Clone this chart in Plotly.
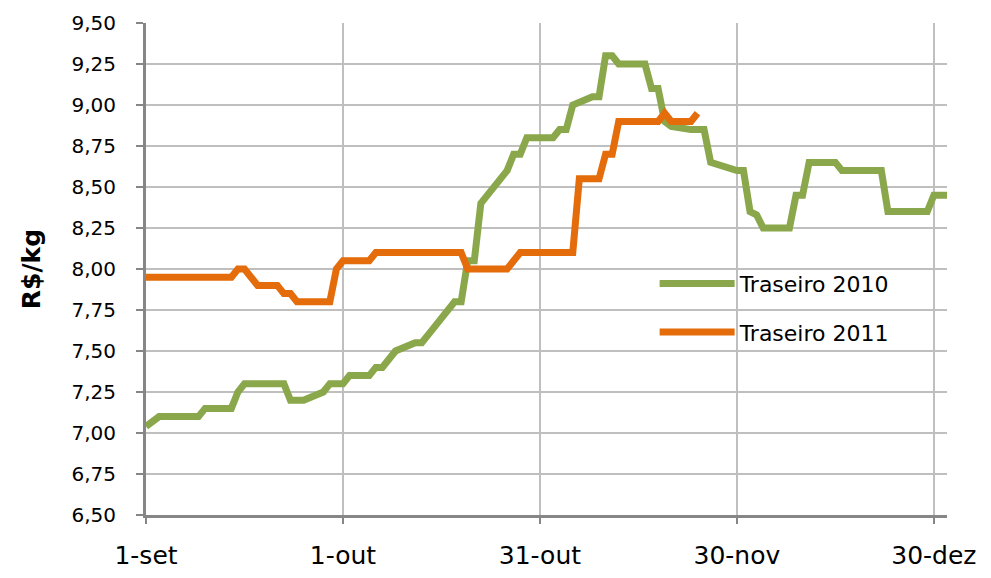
import pandas as pd
import plotly.graph_objects as go

# Preço do traseiro (R$/kg), safra 2010
datas_2010 = [
    "2010-09-01", "2010-09-03", "2010-09-09", "2010-09-10", "2010-09-14", "2010-09-15",
    "2010-09-16", "2010-09-22", "2010-09-23", "2010-09-25", "2010-09-28", "2010-09-29",
    "2010-10-01", "2010-10-02", "2010-10-05", "2010-10-06", "2010-10-07", "2010-10-09",
    "2010-10-12", "2010-10-13", "2010-10-14", "2010-10-16", "2010-10-18", "2010-10-19",
    "2010-10-20", "2010-10-21", "2010-10-22", "2010-10-26", "2010-10-27", "2010-10-28",
    "2010-10-29", "2010-11-02", "2010-11-03", "2010-11-04", "2010-11-05", "2010-11-08",
    "2010-11-09", "2010-11-10", "2010-11-11", "2010-11-12", "2010-11-16", "2010-11-17",
    "2010-11-18", "2010-11-19", "2010-11-20", "2010-11-23", "2010-11-25", "2010-11-26",
    "2010-11-30", "2010-12-01", "2010-12-02", "2010-12-03", "2010-12-04", "2010-12-08",
    "2010-12-09", "2010-12-10", "2010-12-11", "2010-12-15", "2010-12-16", "2010-12-22",
    "2010-12-23", "2010-12-29", "2010-12-30", "2011-01-01",
]
precos_2010 = [
    7.04, 7.10, 7.10, 7.15, 7.15, 7.25,
    7.30, 7.30, 7.20, 7.20, 7.25, 7.30,
    7.30, 7.35, 7.35, 7.40, 7.40, 7.50,
    7.55, 7.55, 7.60, 7.70, 7.80, 7.80,
    8.05, 8.05, 8.40, 8.60, 8.70, 8.70,
    8.80, 8.80, 8.85, 8.85, 9.00, 9.05,
    9.05, 9.30, 9.30, 9.25, 9.25, 9.10,
    9.10, 8.90, 8.87, 8.85, 8.85, 8.65,
    8.60, 8.60, 8.35, 8.33, 8.25, 8.25,
    8.45, 8.45, 8.65, 8.65, 8.60, 8.60,
    8.35, 8.35, 8.45, 8.45,
]

# Preço do traseiro (R$/kg), safra 2011
datas_2011 = [
    "2011-09-01", "2011-09-14", "2011-09-15", "2011-09-16", "2011-09-17", "2011-09-18",
    "2011-09-21", "2011-09-22", "2011-09-23", "2011-09-24", "2011-09-29", "2011-09-30",
    "2011-10-01", "2011-10-05", "2011-10-06", "2011-10-19", "2011-10-20", "2011-10-26",
    "2011-10-27", "2011-10-28", "2011-11-05", "2011-11-06", "2011-11-09", "2011-11-10",
    "2011-11-11", "2011-11-12", "2011-11-18", "2011-11-19", "2011-11-20", "2011-11-23",
    "2011-11-24",
]
precos_2011 = [
    7.95, 7.95, 8.00, 8.00, 7.95, 7.90,
    7.90, 7.85, 7.85, 7.80, 7.80, 8.00,
    8.05, 8.05, 8.10, 8.10, 8.00, 8.00,
    8.05, 8.10, 8.10, 8.55, 8.55, 8.70,
    8.70, 8.90, 8.90, 8.95, 8.90, 8.90,
    8.95,
]

series = ["Traseiro 2010", "Traseiro 2011"]
cores = ["#8AA84B", "#E46C0A"]

# Eixo x comum (set-dez); 2011 é deslocado um ano para sobrepor a 2010
x_2010 = pd.to_datetime(datas_2010)
x_2011 = pd.to_datetime(datas_2011) - pd.DateOffset(years=1)

tick_datas = ["2010-09-01", "2010-10-01", "2010-10-31", "2010-11-30", "2010-12-30"]
tick_rotulos = ["1-set", "1-out", "31-out", "30-nov", "30-dez"]

FONTE = "DejaVu Sans"
GRADE = "#BFBFBF"
EIXO = "#868686"

fig = go.Figure()
for nome, xs, ys, cor in [
    (series[0], x_2010, precos_2010, cores[0]),
    (series[1], x_2011, precos_2011, cores[1]),
]:
    fig.add_trace(go.Scatter(
        x=xs, y=ys, name=nome, mode="lines", legendgroup=nome,
        line=dict(color=cor, width=7),
    ))

# Fundo branco da legenda sobre a grade
fig.add_shape(type="rect", xref="paper", yref="paper",
              x0=0.588, x1=0.991, y0=0.313, y1=0.521,
              fillcolor="white", line=dict(width=0), layer="between")

fig.update_layout(
    width=991, height=578,
    margin=dict(l=146, r=44, t=23, b=63),
    paper_bgcolor="white", plot_bgcolor="white",
    separators=",.",
    font=dict(family=FONTE, color="black"),
    showlegend=True,
    legend=dict(
        x=0.635, y=0.513, xanchor="left", yanchor="top",
        bgcolor="rgba(0,0,0,0)", font=dict(size=22, family=FONTE),
        tracegroupgap=17, itemwidth=75,
    ),
    xaxis=dict(
        type="date", range=["2010-09-01", "2011-01-01"],
        tickvals=tick_datas, ticktext=tick_rotulos,
        showgrid=True, gridcolor=GRADE, gridwidth=2,
        showline=True, linecolor=EIXO, linewidth=3,
        ticks="outside", ticklen=6, tickwidth=2, tickcolor=EIXO,
        tickfont=dict(size=25, family=FONTE), ticklabelstandoff=10,
        zeroline=False, automargin=False,
    ),
    yaxis=dict(
        range=[6.5, 9.5], dtick=0.25, tick0=6.5, tickformat=".2f",
        showgrid=True, gridcolor=GRADE, gridwidth=2,
        showline=True, linecolor=EIXO, linewidth=3,
        ticks="outside", ticklen=7, tickwidth=2, tickcolor=EIXO,
        tickfont=dict(size=20, family=FONTE), ticklabelstandoff=16,
        zeroline=False, automargin=False,
        title=dict(text="<b>R$/kg</b>", font=dict(size=25, family=FONTE), standoff=24),
    ),
)

fig.write_html("out.html")
